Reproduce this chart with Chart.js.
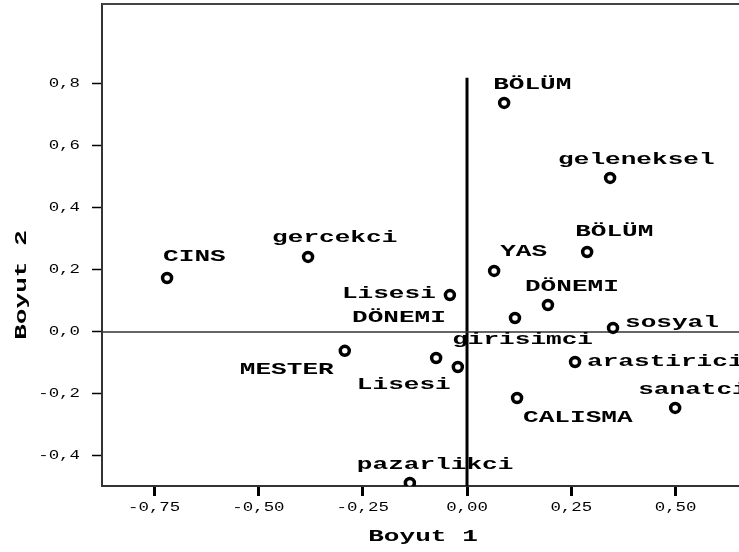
<!DOCTYPE html>
<html lang="tr">
<head>
<meta charset="UTF-8">
<title>Boyut 1 / Boyut 2</title>
<script src="https://cdn.jsdelivr.net/npm/chart.js"></script>
<style>
  body { margin: 0; background: #fff; }
  canvas { display: block; }
</style>
</head>
<body>
<canvas id="plot" width="739" height="552"></canvas>
<script>
// category quantifications
const names = ['BÖLÜM', 'geleneksel', 'BÖLÜM', 'YAS', 'gercekci', 'CINS', 'Lisesi', 'DÖNEMI', 'DÖNEMI',
  'sosyal', 'girisimci', 'MESTER', 'Lisesi', 'arastirici', 'sanatci', 'CALISMA', 'pazarlikci'];
const dim1 = [0.089, 0.343, 0.288, 0.065, -0.381, -0.719, -0.041, 0.194, 0.115,
  0.350, -0.074, -0.293, -0.022, 0.259, 0.499, 0.120, -0.137];
const dim2 = [0.739, 0.497, 0.258, 0.197, 0.242, 0.174, 0.119, 0.087, 0.045,
  0.013, -0.084, -0.061, -0.113, -0.097, -0.245, -0.213, -0.487];
const xTicks = [-0.75, -0.50, -0.25, 0, 0.25, 0.50];
const yTicks = [-0.4, -0.2, 0, 0.2, 0.4, 0.6, 0.8];
const xRange = [-0.875, 0.652];
const yRange = [-0.497, 1.058];
const vLineTop = 0.82;

// where each label sits relative to its point (left edge, middle), px
const labelOffsets = [[-11, -18], [-52, -18], [-12, -20], [6, -19], [-36, -19], [-4, -21], [-108, -1], [-23, -18], [-163, 0],
  [12, -5], [16, -18], [-105, 19], [-101, 18], [12, 0], [-37, -18], [6, 20], [-53, -18]];

const MONO = '"Liberation Mono", "Courier New", monospace';

function wideText(ctx, text, x, y, font, stretch, align) {
  ctx.save();
  ctx.font = font + ' ' + MONO;
  ctx.textBaseline = 'middle';
  const w = ctx.measureText(text).width * stretch;
  let left = x;
  if (align === 'center') left = x - w / 2;
  if (align === 'right') left = x - w;
  ctx.translate(left, y);
  ctx.scale(stretch, 1);
  ctx.textAlign = 'left';
  ctx.fillText(text, 0, 0);
  ctx.restore();
}

const overlay = {
  id: 'overlay',
  afterDraw(chart) {
    const { ctx, chartArea: a, scales: { x, y } } = chart;
    ctx.save();
    ctx.strokeStyle = '#444';
    ctx.lineWidth = 2;
    ctx.beginPath();
    ctx.moveTo(a.left, a.top);
    ctx.lineTo(a.right, a.top);
    ctx.stroke();
    ctx.fillStyle = '#000';

    xTicks.forEach(v => wideText(ctx, v.toFixed(2).replace('.', ','), x.getPixelForValue(v), 508, '12px', 1.45, 'center'));
    yTicks.forEach(v => wideText(ctx, v.toFixed(1).replace('.', ','), 80, y.getPixelForValue(v), '12px', 1.45, 'right'));

    wideText(ctx, 'Boyut 1', 423, 537, 'bold 16px', 1.63, 'center');
    ctx.save();
    ctx.translate(22, 285);
    ctx.rotate(-Math.PI / 2);
    wideText(ctx, 'Boyut 2', 0, 0, 'bold 16px', 1.63, 'center');
    ctx.restore();

    const meta = chart.getDatasetMeta(0);
    meta.data.forEach((pt, i) => {
      wideText(ctx, names[i], pt.x + labelOffsets[i][0], pt.y + labelOffsets[i][1], 'bold 16px', 1.63, 'left');
    });
    ctx.restore();
  }
};

new Chart(document.getElementById('plot'), {
  type: 'scatter',
  data: {
    datasets: [
      {
        data: dim1.map((v, i) => ({ x: v, y: dim2[i] })),
        pointStyle: 'circle',
        pointRadius: 4.5,
        pointBorderWidth: 3.5,
        pointBackgroundColor: '#fff',
        pointBorderColor: '#000',
        clip: 0
      },
      {
        data: [{ x: xRange[0], y: 0 }, { x: xRange[1], y: 0 }],
        showLine: true,
        borderColor: '#333',
        borderWidth: 1.5,
        pointRadius: 0
      },
      {
        data: [{ x: 0, y: yRange[0] }, { x: 0, y: vLineTop }],
        showLine: true,
        borderColor: '#000',
        borderWidth: 3,
        pointRadius: 0
      }
    ]
  },
  options: {
    responsive: false,
    animation: false,
    devicePixelRatio: 1,
    layout: { padding: { top: 4, right: 0, left: 0, bottom: 0 }, autoPadding: false },
    plugins: { legend: { display: false }, tooltip: { enabled: false } },
    scales: {
      x: {
        min: xRange[0],
        max: xRange[1],
        afterBuildTicks: s => { s.ticks = xTicks.map(v => ({ value: v })); },
        afterFit: s => { s.height = 66; s.paddingLeft = 0; s.paddingRight = 0; },
        ticks: { display: false },
        grid: { drawOnChartArea: false, drawTicks: true, tickLength: 10, tickWidth: 3, tickColor: '#000' },
        border: { display: true, color: '#333', width: 2 }
      },
      y: {
        min: yRange[0],
        max: yRange[1],
        afterBuildTicks: s => { s.ticks = yTicks.map(v => ({ value: v })); },
        afterFit: s => { s.width = 102; s.paddingTop = 0; s.paddingBottom = 0; },
        ticks: { display: false },
        grid: { drawOnChartArea: false, drawTicks: true, tickLength: 10, tickWidth: 1.5, tickColor: '#000' },
        border: { display: true, color: '#333', width: 2 }
      }
    }
  },
  plugins: [overlay]
});
</script>
</body>
</html>
